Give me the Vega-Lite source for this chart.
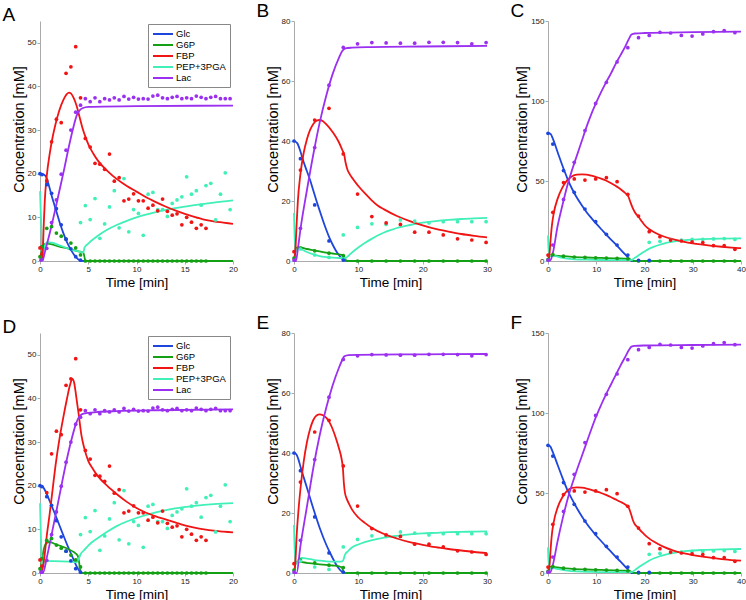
{
"$schema":"https://vega.github.io/schema/vega-lite/v6.json",
"background":"white",
"padding":{"left":2,"top":2,"right":0,"bottom":0},
"config":{
 "view":{"stroke":null},
 "axis":{"grid":false,"domainColor":"#aaaaaa","tickColor":"#aaaaaa","tickSize":3,"labelFont":"Liberation Sans","labelFontSize":8,"labelColor":"#222222","labelPadding":1,"labelFlush":false,"labelOverlap":false,"titleFont":"Liberation Sans","titleFontWeight":"normal","titleColor":"black"},
 "axisX":{"titleFontSize":13.5,"titlePadding":2},
 "axisY":{"titleFontSize":14.5,"titlePadding":1,"titleY":108},
 "title":{"font":"Liberation Sans","fontSize":19,"fontWeight":"normal","color":"black","anchor":"start","frame":"group","dx":-37.5,"offset":0,"dy":8,"baseline":"alphabetic"},
 "legend":{"title":null}
},
"datasets":{
"lnA":[
{"s":"Glc","t":0,"c":20},{"s":"Glc","t":0.3,"c":19.9},{"s":"Glc","t":0.6,"c":19.4},{"s":"Glc","t":0.9,"c":17.5},{"s":"Glc","t":1.2,"c":15},{"s":"Glc","t":1.5,"c":12.8},{"s":"Glc","t":1.8,"c":10.6},{"s":"Glc","t":2.1,"c":8.4},{"s":"Glc","t":2.4,"c":6.5},{"s":"Glc","t":2.7,"c":4.8},{"s":"Glc","t":3,"c":3.4},{"s":"Glc","t":3.3,"c":2.2},{"s":"Glc","t":3.6,"c":1.2},{"s":"Glc","t":3.9,"c":0.5},{"s":"Glc","t":4.2,"c":0.1},{"s":"Glc","t":4.5,"c":0},{"s":"Glc","t":20,"c":0},
{"s":"G6P","t":0,"c":0},{"s":"G6P","t":0.1,"c":1.5},{"s":"G6P","t":0.3,"c":3.5},{"s":"G6P","t":0.6,"c":4},{"s":"G6P","t":1,"c":3.9},{"s":"G6P","t":2,"c":3.3},{"s":"G6P","t":3,"c":2.8},{"s":"G6P","t":4,"c":2.2},{"s":"G6P","t":4.5,"c":1.9},{"s":"G6P","t":4.6,"c":1},{"s":"G6P","t":4.7,"c":0.1},{"s":"G6P","t":4.8,"c":0},{"s":"G6P","t":20,"c":0},
{"s":"PEP+3PGA","t":0,"c":16},{"s":"PEP+3PGA","t":0.1,"c":10},{"s":"PEP+3PGA","t":0.2,"c":4},{"s":"PEP+3PGA","t":0.3,"c":2},{"s":"PEP+3PGA","t":0.5,"c":3.5},{"s":"PEP+3PGA","t":0.8,"c":4.3},{"s":"PEP+3PGA","t":1.2,"c":4.2},{"s":"PEP+3PGA","t":2,"c":3.6},{"s":"PEP+3PGA","t":3,"c":2.8},{"s":"PEP+3PGA","t":4,"c":2.2},{"s":"PEP+3PGA","t":4.5,"c":2},{"s":"PEP+3PGA","t":4.6,"c":3},{"s":"PEP+3PGA","t":5,"c":4},{"s":"PEP+3PGA","t":6,"c":5.8},{"s":"PEP+3PGA","t":7,"c":7.2},{"s":"PEP+3PGA","t":8,"c":8.3},{"s":"PEP+3PGA","t":9,"c":9.2},{"s":"PEP+3PGA","t":10,"c":10},{"s":"PEP+3PGA","t":12,"c":11.2},{"s":"PEP+3PGA","t":14,"c":12.1},{"s":"PEP+3PGA","t":16,"c":12.8},{"s":"PEP+3PGA","t":18,"c":13.4},{"s":"PEP+3PGA","t":20,"c":13.9},
{"s":"FBP","t":0,"c":0},{"s":"FBP","t":0.2,"c":0.5},{"s":"FBP","t":0.3,"c":3},{"s":"FBP","t":0.4,"c":9},{"s":"FBP","t":0.5,"c":14},{"s":"FBP","t":0.7,"c":19.5},{"s":"FBP","t":1,"c":24.5},{"s":"FBP","t":1.3,"c":28.3},{"s":"FBP","t":1.6,"c":31.3},{"s":"FBP","t":2,"c":34.5},{"s":"FBP","t":2.4,"c":36.8},{"s":"FBP","t":2.8,"c":38.3},{"s":"FBP","t":3,"c":38.6},{"s":"FBP","t":3.2,"c":38.4},{"s":"FBP","t":3.5,"c":37.3},{"s":"FBP","t":3.8,"c":35.5},{"s":"FBP","t":4.1,"c":33},{"s":"FBP","t":4.4,"c":30.5},{"s":"FBP","t":4.7,"c":28.5},{"s":"FBP","t":5,"c":26.8},{"s":"FBP","t":5.5,"c":24.7},{"s":"FBP","t":6,"c":23},{"s":"FBP","t":7,"c":20.6},{"s":"FBP","t":8,"c":18.7},{"s":"FBP","t":9,"c":17.2},{"s":"FBP","t":10,"c":15.9},{"s":"FBP","t":11,"c":14.6},{"s":"FBP","t":12,"c":13.5},{"s":"FBP","t":13,"c":12.5},{"s":"FBP","t":14,"c":11.6},{"s":"FBP","t":15,"c":10.8},{"s":"FBP","t":16,"c":10.1},{"s":"FBP","t":17,"c":9.5},{"s":"FBP","t":18,"c":9.1},{"s":"FBP","t":19,"c":8.8},{"s":"FBP","t":20,"c":8.5},
{"s":"Lac","t":0,"c":0},{"s":"Lac","t":0.3,"c":0.3},{"s":"Lac","t":0.5,"c":2},{"s":"Lac","t":1,"c":6.3},{"s":"Lac","t":1.5,"c":11},{"s":"Lac","t":2,"c":16},{"s":"Lac","t":2.5,"c":21},{"s":"Lac","t":3,"c":26.3},{"s":"Lac","t":3.5,"c":31},{"s":"Lac","t":3.8,"c":33.3},{"s":"Lac","t":4.1,"c":34.5},{"s":"Lac","t":4.4,"c":35},{"s":"Lac","t":5,"c":35.3},{"s":"Lac","t":10,"c":35.5},{"s":"Lac","t":20,"c":35.6}
],
"lnD":[
{"s":"Glc","t":0,"c":20},{"s":"Glc","t":0.3,"c":19.7},{"s":"Glc","t":0.6,"c":18.6},{"s":"Glc","t":1,"c":16.5},{"s":"Glc","t":1.5,"c":13.8},{"s":"Glc","t":2,"c":11},{"s":"Glc","t":2.5,"c":8.2},{"s":"Glc","t":3,"c":5.5},{"s":"Glc","t":3.5,"c":3},{"s":"Glc","t":3.8,"c":1.5},{"s":"Glc","t":4.1,"c":0.4},{"s":"Glc","t":4.3,"c":0},{"s":"Glc","t":20,"c":0},
{"s":"G6P","t":0,"c":0},{"s":"G6P","t":0.2,"c":3},{"s":"G6P","t":0.4,"c":5.5},{"s":"G6P","t":0.7,"c":6.9},{"s":"G6P","t":1,"c":7.1},{"s":"G6P","t":1.5,"c":6.7},{"s":"G6P","t":2,"c":6.3},{"s":"G6P","t":2.5,"c":5.9},{"s":"G6P","t":3,"c":5.4},{"s":"G6P","t":3.5,"c":4.8},{"s":"G6P","t":3.9,"c":4},{"s":"G6P","t":4.05,"c":2.5},{"s":"G6P","t":4.15,"c":0.8},{"s":"G6P","t":4.3,"c":0},{"s":"G6P","t":20,"c":0},
{"s":"PEP+3PGA","t":0,"c":16},{"s":"PEP+3PGA","t":0.1,"c":8},{"s":"PEP+3PGA","t":0.2,"c":1.5},{"s":"PEP+3PGA","t":0.4,"c":2.5},{"s":"PEP+3PGA","t":0.7,"c":2.8},{"s":"PEP+3PGA","t":1.5,"c":2.7},{"s":"PEP+3PGA","t":3,"c":2.6},{"s":"PEP+3PGA","t":3.8,"c":2.5},{"s":"PEP+3PGA","t":4,"c":3.2},{"s":"PEP+3PGA","t":4.2,"c":4.3},{"s":"PEP+3PGA","t":4.6,"c":5.3},{"s":"PEP+3PGA","t":5,"c":6.3},{"s":"PEP+3PGA","t":6,"c":8},{"s":"PEP+3PGA","t":7,"c":9.5},{"s":"PEP+3PGA","t":8,"c":10.8},{"s":"PEP+3PGA","t":9,"c":11.8},{"s":"PEP+3PGA","t":10,"c":12.6},{"s":"PEP+3PGA","t":12,"c":13.9},{"s":"PEP+3PGA","t":14,"c":14.8},{"s":"PEP+3PGA","t":16,"c":15.4},{"s":"PEP+3PGA","t":18,"c":15.8},{"s":"PEP+3PGA","t":20,"c":16},
{"s":"FBP","t":0,"c":0},{"s":"FBP","t":0.2,"c":0.5},{"s":"FBP","t":0.35,"c":2},{"s":"FBP","t":0.5,"c":4.5},{"s":"FBP","t":0.7,"c":8.5},{"s":"FBP","t":1,"c":13.5},{"s":"FBP","t":1.3,"c":19},{"s":"FBP","t":1.6,"c":24.5},{"s":"FBP","t":2,"c":30.5},{"s":"FBP","t":2.4,"c":35.5},{"s":"FBP","t":2.8,"c":40},{"s":"FBP","t":3.1,"c":43},{"s":"FBP","t":3.35,"c":44.5},{"s":"FBP","t":3.55,"c":43.5},{"s":"FBP","t":3.75,"c":40.5},{"s":"FBP","t":4,"c":36.5},{"s":"FBP","t":4.3,"c":31.5},{"s":"FBP","t":4.6,"c":28.5},{"s":"FBP","t":5,"c":25.7},{"s":"FBP","t":5.5,"c":23.8},{"s":"FBP","t":6,"c":22.2},{"s":"FBP","t":7,"c":19.9},{"s":"FBP","t":8,"c":18},{"s":"FBP","t":9,"c":16.3},{"s":"FBP","t":10,"c":14.9},{"s":"FBP","t":11,"c":13.8},{"s":"FBP","t":12,"c":13},{"s":"FBP","t":13,"c":12.3},{"s":"FBP","t":14,"c":11.6},{"s":"FBP","t":15,"c":10.9},{"s":"FBP","t":16,"c":10.4},{"s":"FBP","t":17,"c":10},{"s":"FBP","t":18,"c":9.7},{"s":"FBP","t":19,"c":9.5},{"s":"FBP","t":20,"c":9.3},
{"s":"Lac","t":0,"c":0},{"s":"Lac","t":0.3,"c":0},{"s":"Lac","t":0.7,"c":3.5},{"s":"Lac","t":1.2,"c":8.8},{"s":"Lac","t":1.7,"c":14.2},{"s":"Lac","t":2.2,"c":19.8},{"s":"Lac","t":2.7,"c":25.2},{"s":"Lac","t":3.2,"c":30},{"s":"Lac","t":3.7,"c":34},{"s":"Lac","t":4,"c":35.6},{"s":"Lac","t":4.3,"c":36.3},{"s":"Lac","t":4.7,"c":36.6},{"s":"Lac","t":5,"c":36.7},{"s":"Lac","t":6,"c":36.9},{"s":"Lac","t":8,"c":37.1},{"s":"Lac","t":12,"c":37.3},{"s":"Lac","t":20,"c":37.5}
],
"ptsA":[
{"s":"G6P","t":0,"c":1},{"s":"G6P","t":0.2,"c":3.3},{"s":"G6P","t":0.7,"c":7.5},{"s":"G6P","t":1.2,"c":7.9},{"s":"G6P","t":1.7,"c":6.4},{"s":"G6P","t":2.2,"c":5.7},{"s":"G6P","t":2.7,"c":5},{"s":"G6P","t":3.2,"c":4.1},{"s":"G6P","t":3.7,"c":3},{"s":"G6P","t":4.2,"c":1.4},
{"s":"G6P","t":4.7,"c":0},{"s":"G6P","t":5.2,"c":0},{"s":"G6P","t":5.7,"c":0},{"s":"G6P","t":6.2,"c":0},{"s":"G6P","t":6.7,"c":0},{"s":"G6P","t":7.2,"c":0},{"s":"G6P","t":7.7,"c":0},{"s":"G6P","t":8.2,"c":0},{"s":"G6P","t":8.7,"c":0},{"s":"G6P","t":9.2,"c":0},{"s":"G6P","t":9.7,"c":0},{"s":"G6P","t":10.2,"c":0},{"s":"G6P","t":10.7,"c":0},{"s":"G6P","t":11.2,"c":0},{"s":"G6P","t":11.7,"c":0},{"s":"G6P","t":12.2,"c":0},{"s":"G6P","t":12.7,"c":0},{"s":"G6P","t":13.2,"c":0},{"s":"G6P","t":13.7,"c":0},{"s":"G6P","t":14.2,"c":0},{"s":"G6P","t":14.7,"c":0},{"s":"G6P","t":15.2,"c":0},{"s":"G6P","t":15.7,"c":0},{"s":"G6P","t":16.2,"c":0},{"s":"G6P","t":16.7,"c":0},{"s":"G6P","t":17.2,"c":0},
{"s":"PEP+3PGA","t":4.2,"c":8.8},{"s":"PEP+3PGA","t":4.7,"c":12.7},{"s":"PEP+3PGA","t":5.2,"c":9.5},{"s":"PEP+3PGA","t":5.7,"c":14.3},{"s":"PEP+3PGA","t":6.2,"c":5.2},{"s":"PEP+3PGA","t":6.7,"c":8.5},{"s":"PEP+3PGA","t":7.2,"c":12.4},{"s":"PEP+3PGA","t":7.7,"c":16.1},{"s":"PEP+3PGA","t":8.2,"c":7.6},{"s":"PEP+3PGA","t":8.7,"c":18.9},{"s":"PEP+3PGA","t":9.2,"c":6.7},{"s":"PEP+3PGA","t":9.7,"c":11.8},{"s":"PEP+3PGA","t":10.2,"c":10.9},{"s":"PEP+3PGA","t":10.7,"c":5.9},{"s":"PEP+3PGA","t":11.2,"c":15.3},{"s":"PEP+3PGA","t":11.7,"c":15.7},{"s":"PEP+3PGA","t":12.2,"c":11.8},{"s":"PEP+3PGA","t":12.7,"c":11.8},{"s":"PEP+3PGA","t":13.2,"c":10.2},{"s":"PEP+3PGA","t":13.7,"c":13.2},{"s":"PEP+3PGA","t":14.2,"c":14},{"s":"PEP+3PGA","t":14.7,"c":14.7},{"s":"PEP+3PGA","t":15.2,"c":19.3},{"s":"PEP+3PGA","t":15.7,"c":15.3},{"s":"PEP+3PGA","t":16.2,"c":16.1},{"s":"PEP+3PGA","t":16.7,"c":12.8},{"s":"PEP+3PGA","t":17.2,"c":17.3},{"s":"PEP+3PGA","t":17.7,"c":17.8},{"s":"PEP+3PGA","t":18.2,"c":9.4},{"s":"PEP+3PGA","t":18.7,"c":15.3},{"s":"PEP+3PGA","t":19.2,"c":20.2},{"s":"PEP+3PGA","t":19.7,"c":11.8},
{"s":"FBP","t":0,"c":3},{"s":"FBP","t":0.2,"c":1.6},{"s":"FBP","t":0.7,"c":18.4},{"s":"FBP","t":1.2,"c":27.3},{"s":"FBP","t":1.7,"c":32.5},{"s":"FBP","t":2.2,"c":31.7},{"s":"FBP","t":2.7,"c":43},{"s":"FBP","t":3.2,"c":44.5},{"s":"FBP","t":3.7,"c":49.1},{"s":"FBP","t":4.2,"c":37.4},{"s":"FBP","t":4.7,"c":28.1},{"s":"FBP","t":5.2,"c":26.1},{"s":"FBP","t":5.7,"c":22.4},{"s":"FBP","t":6.2,"c":22.2},{"s":"FBP","t":6.7,"c":21},{"s":"FBP","t":7.2,"c":24.5},{"s":"FBP","t":7.7,"c":18.3},{"s":"FBP","t":8.2,"c":19.1},{"s":"FBP","t":8.7,"c":13.8},{"s":"FBP","t":9.2,"c":14.2},{"s":"FBP","t":9.7,"c":15.4},{"s":"FBP","t":10.2,"c":13.8},{"s":"FBP","t":10.7,"c":13.8},{"s":"FBP","t":11.2,"c":12.1},{"s":"FBP","t":11.7,"c":12.8},{"s":"FBP","t":12.2,"c":11.5},{"s":"FBP","t":12.7,"c":14.2},{"s":"FBP","t":13.2,"c":11.4},{"s":"FBP","t":13.7,"c":10.5},{"s":"FBP","t":14.2,"c":10.8},{"s":"FBP","t":14.7,"c":8.3},{"s":"FBP","t":15.2,"c":10},{"s":"FBP","t":15.7,"c":8.9},{"s":"FBP","t":16.2,"c":7.5},{"s":"FBP","t":16.7,"c":8.3},{"s":"FBP","t":17.2,"c":7.5},
{"s":"Lac","t":0.2,"c":0.3},{"s":"Lac","t":0.7,"c":2.9},{"s":"Lac","t":1.2,"c":8.8},{"s":"Lac","t":1.7,"c":14},{"s":"Lac","t":2.2,"c":19.9},{"s":"Lac","t":2.7,"c":25.4},{"s":"Lac","t":3.2,"c":30},{"s":"Lac","t":3.7,"c":34.1},{"s":"Lac","t":4.2,"c":35.7},{"s":"Lac","t":4.7,"c":37.2},{"s":"Lac","t":5.2,"c":36.5},{"s":"Lac","t":5.7,"c":37.4},{"s":"Lac","t":6.2,"c":36.5},{"s":"Lac","t":6.7,"c":37.2},{"s":"Lac","t":7.2,"c":36.9},{"s":"Lac","t":7.7,"c":37.4},{"s":"Lac","t":8.2,"c":36.9},{"s":"Lac","t":8.7,"c":37.7},{"s":"Lac","t":9.2,"c":37.1},{"s":"Lac","t":9.7,"c":37.5},{"s":"Lac","t":10.2,"c":37.1},{"s":"Lac","t":10.7,"c":37.2},{"s":"Lac","t":11.2,"c":37.1},{"s":"Lac","t":11.7,"c":37.8},{"s":"Lac","t":12.2,"c":38},{"s":"Lac","t":12.7,"c":37.4},{"s":"Lac","t":13.2,"c":37.2},{"s":"Lac","t":13.7,"c":37.5},{"s":"Lac","t":14.2,"c":37.7},{"s":"Lac","t":14.7,"c":37.2},{"s":"Lac","t":15.2,"c":37.4},{"s":"Lac","t":15.7,"c":37.2},{"s":"Lac","t":16.2,"c":37.8},{"s":"Lac","t":16.7,"c":37.5},{"s":"Lac","t":17.2,"c":37.2},{"s":"Lac","t":17.7,"c":37.5},{"s":"Lac","t":18.2,"c":37.7},{"s":"Lac","t":18.7,"c":37.2},{"s":"Lac","t":19.2,"c":37.2},{"s":"Lac","t":19.7,"c":37.2},
{"s":"Glc","t":0,"c":20},{"s":"Glc","t":0.2,"c":19.8},{"s":"Glc","t":0.7,"c":17.5},{"s":"Glc","t":1.2,"c":15.5},{"s":"Glc","t":1.7,"c":12},{"s":"Glc","t":2.2,"c":8.3},{"s":"Glc","t":2.7,"c":5},{"s":"Glc","t":3.2,"c":2.8},{"s":"Glc","t":3.7,"c":1},{"s":"Glc","t":4.2,"c":0.2}
],
"lnB":[
{"s":"Glc","t":0,"c":40},{"s":"Glc","t":0.5,"c":39.3},{"s":"Glc","t":1,"c":36.5},{"s":"Glc","t":1.5,"c":33},{"s":"Glc","t":2,"c":30},{"s":"Glc","t":2.5,"c":27},{"s":"Glc","t":3,"c":23.5},{"s":"Glc","t":3.5,"c":20},{"s":"Glc","t":4,"c":16.7},{"s":"Glc","t":4.5,"c":13.5},{"s":"Glc","t":5,"c":10.5},{"s":"Glc","t":5.5,"c":7.8},{"s":"Glc","t":6,"c":5.5},{"s":"Glc","t":6.5,"c":3.5},{"s":"Glc","t":7,"c":1.9},{"s":"Glc","t":7.5,"c":0.7},{"s":"Glc","t":7.9,"c":0.1},{"s":"Glc","t":8.2,"c":0},{"s":"Glc","t":30,"c":0},
{"s":"G6P","t":0,"c":0},{"s":"G6P","t":0.2,"c":3},{"s":"G6P","t":0.5,"c":4.5},{"s":"G6P","t":1,"c":4.5},{"s":"G6P","t":2,"c":4},{"s":"G6P","t":3,"c":3.6},{"s":"G6P","t":4,"c":3.2},{"s":"G6P","t":5,"c":2.8},{"s":"G6P","t":6,"c":2.5},{"s":"G6P","t":7,"c":2.2},{"s":"G6P","t":7.6,"c":2},{"s":"G6P","t":7.9,"c":1},{"s":"G6P","t":8.1,"c":0.2},{"s":"G6P","t":8.3,"c":0},{"s":"G6P","t":30,"c":0},
{"s":"PEP+3PGA","t":0,"c":16},{"s":"PEP+3PGA","t":0.1,"c":8},{"s":"PEP+3PGA","t":0.3,"c":3},{"s":"PEP+3PGA","t":0.6,"c":4.2},{"s":"PEP+3PGA","t":1,"c":4},{"s":"PEP+3PGA","t":2,"c":3},{"s":"PEP+3PGA","t":3,"c":2.2},{"s":"PEP+3PGA","t":4,"c":1.6},{"s":"PEP+3PGA","t":5,"c":1.3},{"s":"PEP+3PGA","t":6,"c":1.1},{"s":"PEP+3PGA","t":7,"c":1},{"s":"PEP+3PGA","t":8,"c":1},{"s":"PEP+3PGA","t":8.5,"c":1.8},{"s":"PEP+3PGA","t":9,"c":2.8},{"s":"PEP+3PGA","t":10,"c":4.5},{"s":"PEP+3PGA","t":11,"c":6},{"s":"PEP+3PGA","t":12,"c":7.3},{"s":"PEP+3PGA","t":13,"c":8.5},{"s":"PEP+3PGA","t":14,"c":9.5},{"s":"PEP+3PGA","t":15,"c":10.3},{"s":"PEP+3PGA","t":16,"c":11},{"s":"PEP+3PGA","t":18,"c":12},{"s":"PEP+3PGA","t":20,"c":12.8},{"s":"PEP+3PGA","t":22,"c":13.3},{"s":"PEP+3PGA","t":24,"c":13.7},{"s":"PEP+3PGA","t":26,"c":14},{"s":"PEP+3PGA","t":28,"c":14.2},{"s":"PEP+3PGA","t":30,"c":14.4},
{"s":"FBP","t":0,"c":0},{"s":"FBP","t":0.2,"c":3},{"s":"FBP","t":0.4,"c":12},{"s":"FBP","t":0.6,"c":20},{"s":"FBP","t":1,"c":29},{"s":"FBP","t":1.5,"c":36},{"s":"FBP","t":2,"c":40.5},{"s":"FBP","t":2.5,"c":43.7},{"s":"FBP","t":3,"c":45.7},{"s":"FBP","t":3.5,"c":46.8},{"s":"FBP","t":4,"c":47},{"s":"FBP","t":4.5,"c":46.6},{"s":"FBP","t":5,"c":45.6},{"s":"FBP","t":6,"c":43},{"s":"FBP","t":7,"c":39.5},{"s":"FBP","t":7.5,"c":37},{"s":"FBP","t":7.8,"c":35.5},{"s":"FBP","t":8,"c":33},{"s":"FBP","t":8.3,"c":30.5},{"s":"FBP","t":8.7,"c":28.8},{"s":"FBP","t":9,"c":27.8},{"s":"FBP","t":10,"c":25},{"s":"FBP","t":11,"c":22.6},{"s":"FBP","t":12,"c":20.4},{"s":"FBP","t":13,"c":18.5},{"s":"FBP","t":14,"c":17.2},{"s":"FBP","t":16,"c":15},{"s":"FBP","t":18,"c":13.3},{"s":"FBP","t":20,"c":11.9},{"s":"FBP","t":22,"c":10.7},{"s":"FBP","t":24,"c":9.8},{"s":"FBP","t":26,"c":9},{"s":"FBP","t":28,"c":8.4},{"s":"FBP","t":30,"c":7.9},
{"s":"Lac","t":0,"c":0},{"s":"Lac","t":0.3,"c":0},{"s":"Lac","t":0.6,"c":4},{"s":"Lac","t":1,"c":10.5},{"s":"Lac","t":2,"c":23.5},{"s":"Lac","t":3,"c":35.5},{"s":"Lac","t":4,"c":46.2},{"s":"Lac","t":5,"c":55},{"s":"Lac","t":6,"c":62.3},{"s":"Lac","t":7,"c":67.8},{"s":"Lac","t":7.5,"c":70},{"s":"Lac","t":8,"c":70.9},{"s":"Lac","t":9,"c":71.1},{"s":"Lac","t":12,"c":71.3},{"s":"Lac","t":20,"c":71.5},{"s":"Lac","t":30,"c":71.7}
],
"lnE":[
{"s":"Glc","t":0,"c":40},{"s":"Glc","t":0.3,"c":39.7},{"s":"Glc","t":0.7,"c":37.8},{"s":"Glc","t":1,"c":35.5},{"s":"Glc","t":2,"c":28.5},{"s":"Glc","t":3,"c":21.5},{"s":"Glc","t":4,"c":15},{"s":"Glc","t":5,"c":9.5},{"s":"Glc","t":5.5,"c":7.2},{"s":"Glc","t":6,"c":5},{"s":"Glc","t":6.5,"c":3},{"s":"Glc","t":7,"c":1.4},{"s":"Glc","t":7.5,"c":0.3},{"s":"Glc","t":7.8,"c":0},{"s":"Glc","t":30,"c":0},
{"s":"G6P","t":0,"c":0},{"s":"G6P","t":0.3,"c":3.5},{"s":"G6P","t":0.6,"c":3.8},{"s":"G6P","t":1,"c":3.7},{"s":"G6P","t":2,"c":3.4},{"s":"G6P","t":3,"c":3.1},{"s":"G6P","t":4,"c":2.9},{"s":"G6P","t":5,"c":2.7},{"s":"G6P","t":6,"c":2.5},{"s":"G6P","t":7,"c":2.2},{"s":"G6P","t":7.4,"c":1.9},{"s":"G6P","t":7.7,"c":0.5},{"s":"G6P","t":7.9,"c":0},{"s":"G6P","t":30,"c":0},
{"s":"PEP+3PGA","t":0,"c":16},{"s":"PEP+3PGA","t":0.1,"c":8},{"s":"PEP+3PGA","t":0.3,"c":3},{"s":"PEP+3PGA","t":0.7,"c":4.5},{"s":"PEP+3PGA","t":1.2,"c":5},{"s":"PEP+3PGA","t":2,"c":4.8},{"s":"PEP+3PGA","t":3,"c":4.4},{"s":"PEP+3PGA","t":4,"c":4.1},{"s":"PEP+3PGA","t":5,"c":3.9},{"s":"PEP+3PGA","t":6,"c":3.8},{"s":"PEP+3PGA","t":7,"c":3.8},{"s":"PEP+3PGA","t":7.5,"c":3.9},{"s":"PEP+3PGA","t":7.7,"c":4.5},{"s":"PEP+3PGA","t":7.9,"c":6},{"s":"PEP+3PGA","t":8.5,"c":7.5},{"s":"PEP+3PGA","t":9,"c":8.5},{"s":"PEP+3PGA","t":10,"c":9.5},{"s":"PEP+3PGA","t":11,"c":10.3},{"s":"PEP+3PGA","t":12,"c":10.9},{"s":"PEP+3PGA","t":13,"c":11.4},{"s":"PEP+3PGA","t":14,"c":11.8},{"s":"PEP+3PGA","t":16,"c":12.4},{"s":"PEP+3PGA","t":18,"c":12.9},{"s":"PEP+3PGA","t":20,"c":13.2},{"s":"PEP+3PGA","t":22,"c":13.4},{"s":"PEP+3PGA","t":24,"c":13.6},{"s":"PEP+3PGA","t":26,"c":13.7},{"s":"PEP+3PGA","t":28,"c":13.8},{"s":"PEP+3PGA","t":30,"c":13.9},
{"s":"FBP","t":0,"c":0},{"s":"FBP","t":0.2,"c":3},{"s":"FBP","t":0.4,"c":12},{"s":"FBP","t":0.7,"c":21},{"s":"FBP","t":1,"c":28},{"s":"FBP","t":1.5,"c":37},{"s":"FBP","t":2,"c":43.5},{"s":"FBP","t":2.5,"c":48},{"s":"FBP","t":3,"c":51},{"s":"FBP","t":3.5,"c":52.5},{"s":"FBP","t":4,"c":52.9},{"s":"FBP","t":4.5,"c":52.6},{"s":"FBP","t":5,"c":51.8},{"s":"FBP","t":5.5,"c":50.3},{"s":"FBP","t":6,"c":48},{"s":"FBP","t":6.5,"c":45},{"s":"FBP","t":7,"c":41.5},{"s":"FBP","t":7.4,"c":38},{"s":"FBP","t":7.6,"c":35},{"s":"FBP","t":7.75,"c":30},{"s":"FBP","t":7.9,"c":27},{"s":"FBP","t":8.2,"c":24.7},{"s":"FBP","t":8.5,"c":23.3},{"s":"FBP","t":9,"c":21.2},{"s":"FBP","t":10,"c":18.5},{"s":"FBP","t":11,"c":16.7},{"s":"FBP","t":12,"c":15.2},{"s":"FBP","t":14,"c":13},{"s":"FBP","t":16,"c":11.5},{"s":"FBP","t":18,"c":10.3},{"s":"FBP","t":20,"c":9.4},{"s":"FBP","t":22,"c":8.6},{"s":"FBP","t":24,"c":8},{"s":"FBP","t":26,"c":7.5},{"s":"FBP","t":28,"c":7},{"s":"FBP","t":30,"c":6.6},
{"s":"Lac","t":0,"c":0},{"s":"Lac","t":0.4,"c":0},{"s":"Lac","t":1,"c":9},{"s":"Lac","t":2,"c":22},{"s":"Lac","t":3,"c":35},{"s":"Lac","t":4,"c":46},{"s":"Lac","t":5,"c":55},{"s":"Lac","t":6,"c":62.5},{"s":"Lac","t":7,"c":68.5},{"s":"Lac","t":7.5,"c":71},{"s":"Lac","t":7.8,"c":72.2},{"s":"Lac","t":8.5,"c":72.6},{"s":"Lac","t":10,"c":72.7},{"s":"Lac","t":20,"c":72.9},{"s":"Lac","t":30,"c":73}
],
"ptsB":[
{"s":"G6P","t":0,"c":1},{"s":"G6P","t":1,"c":4.3},{"s":"G6P","t":3.22,"c":3.4},{"s":"G6P","t":5.44,"c":2.6},{"s":"G6P","t":7.66,"c":1.8},{"s":"G6P","t":9.88,"c":0},{"s":"G6P","t":12.1,"c":0},{"s":"G6P","t":14.32,"c":0},{"s":"G6P","t":16.54,"c":0},{"s":"G6P","t":18.76,"c":0},{"s":"G6P","t":20.98,"c":0},{"s":"G6P","t":23.2,"c":0},{"s":"G6P","t":25.42,"c":0},{"s":"G6P","t":27.64,"c":0},{"s":"G6P","t":29.86,"c":0},
{"s":"PEP+3PGA","t":1,"c":4},{"s":"PEP+3PGA","t":3.22,"c":2},{"s":"PEP+3PGA","t":5.44,"c":1.2},{"s":"PEP+3PGA","t":7.66,"c":8.7},{"s":"PEP+3PGA","t":9.88,"c":11.2},{"s":"PEP+3PGA","t":12.1,"c":12.4},{"s":"PEP+3PGA","t":14.32,"c":12.2},{"s":"PEP+3PGA","t":16.54,"c":13.7},{"s":"PEP+3PGA","t":18.76,"c":13.3},{"s":"PEP+3PGA","t":20.98,"c":12.7},{"s":"PEP+3PGA","t":23.2,"c":13.1},{"s":"PEP+3PGA","t":25.42,"c":13.1},{"s":"PEP+3PGA","t":27.64,"c":13.1},{"s":"PEP+3PGA","t":29.86,"c":13.1},
{"s":"FBP","t":0,"c":3.1},{"s":"FBP","t":1,"c":30.3},{"s":"FBP","t":3.22,"c":47},{"s":"FBP","t":5.44,"c":50.9},{"s":"FBP","t":7.66,"c":35.7},{"s":"FBP","t":9.88,"c":22.3},{"s":"FBP","t":12.1,"c":14.8},{"s":"FBP","t":14.32,"c":12.7},{"s":"FBP","t":16.54,"c":12.2},{"s":"FBP","t":18.76,"c":9.6},{"s":"FBP","t":20.98,"c":9.6},{"s":"FBP","t":23.2,"c":8.7},{"s":"FBP","t":25.42,"c":7.4},{"s":"FBP","t":27.64,"c":7},{"s":"FBP","t":29.86,"c":6.2},
{"s":"Lac","t":0,"c":0.3},{"s":"Lac","t":1,"c":10.9},{"s":"Lac","t":3.22,"c":37.8},{"s":"Lac","t":5.44,"c":58.6},{"s":"Lac","t":7.66,"c":71.2},{"s":"Lac","t":9.88,"c":72.4},{"s":"Lac","t":12.1,"c":72.8},{"s":"Lac","t":14.32,"c":72.7},{"s":"Lac","t":16.54,"c":72.6},{"s":"Lac","t":18.76,"c":72.6},{"s":"Lac","t":20.98,"c":72.9},{"s":"Lac","t":23.2,"c":72.9},{"s":"Lac","t":25.42,"c":72.8},{"s":"Lac","t":27.64,"c":72.4},{"s":"Lac","t":29.86,"c":72.8},
{"s":"Glc","t":0,"c":40},{"s":"Glc","t":1,"c":34.1},{"s":"Glc","t":3.22,"c":18.7},{"s":"Glc","t":5.44,"c":6.7},{"s":"Glc","t":7.66,"c":0.3}
],
"lnC":[
{"s":"Glc","t":0,"c":80},{"s":"Glc","t":0.5,"c":79.5},{"s":"Glc","t":1,"c":76.5},{"s":"Glc","t":2,"c":68},{"s":"Glc","t":3,"c":59.5},{"s":"Glc","t":4,"c":51.7},{"s":"Glc","t":5,"c":45},{"s":"Glc","t":6,"c":39.5},{"s":"Glc","t":7,"c":34.8},{"s":"Glc","t":8,"c":30.5},{"s":"Glc","t":9,"c":26.8},{"s":"Glc","t":10,"c":23.3},{"s":"Glc","t":11,"c":20},{"s":"Glc","t":12,"c":16.8},{"s":"Glc","t":13,"c":13.5},{"s":"Glc","t":14,"c":10.5},{"s":"Glc","t":15,"c":7.3},{"s":"Glc","t":16,"c":4.1},{"s":"Glc","t":16.5,"c":2.4},{"s":"Glc","t":17,"c":0.8},{"s":"Glc","t":17.3,"c":0},{"s":"Glc","t":40,"c":0},
{"s":"G6P","t":0,"c":0},{"s":"G6P","t":0.3,"c":3},{"s":"G6P","t":0.7,"c":3.6},{"s":"G6P","t":1.5,"c":3.4},{"s":"G6P","t":3,"c":3},{"s":"G6P","t":5,"c":2.6},{"s":"G6P","t":8,"c":2.2},{"s":"G6P","t":11,"c":1.9},{"s":"G6P","t":14,"c":1.6},{"s":"G6P","t":16,"c":1.4},{"s":"G6P","t":17,"c":1},{"s":"G6P","t":17.5,"c":0.2},{"s":"G6P","t":18,"c":0},{"s":"G6P","t":40,"c":0},
{"s":"PEP+3PGA","t":0,"c":16},{"s":"PEP+3PGA","t":0.1,"c":8},{"s":"PEP+3PGA","t":0.3,"c":3},{"s":"PEP+3PGA","t":0.7,"c":3.3},{"s":"PEP+3PGA","t":1.5,"c":3},{"s":"PEP+3PGA","t":3,"c":2},{"s":"PEP+3PGA","t":5,"c":1.2},{"s":"PEP+3PGA","t":8,"c":0.8},{"s":"PEP+3PGA","t":12,"c":0.6},{"s":"PEP+3PGA","t":17.2,"c":0.5},{"s":"PEP+3PGA","t":18,"c":2},{"s":"PEP+3PGA","t":19,"c":4},{"s":"PEP+3PGA","t":20,"c":6},{"s":"PEP+3PGA","t":21,"c":7.7},{"s":"PEP+3PGA","t":22,"c":9},{"s":"PEP+3PGA","t":23,"c":10},{"s":"PEP+3PGA","t":24,"c":10.9},{"s":"PEP+3PGA","t":25,"c":11.6},{"s":"PEP+3PGA","t":27,"c":12.6},{"s":"PEP+3PGA","t":29,"c":13.2},{"s":"PEP+3PGA","t":32,"c":13.7},{"s":"PEP+3PGA","t":36,"c":14},{"s":"PEP+3PGA","t":40,"c":14.1},
{"s":"FBP","t":0,"c":0},{"s":"FBP","t":0.3,"c":4},{"s":"FBP","t":0.5,"c":12},{"s":"FBP","t":0.8,"c":22},{"s":"FBP","t":1.2,"c":30},{"s":"FBP","t":2,"c":39},{"s":"FBP","t":3,"c":46},{"s":"FBP","t":4,"c":50.5},{"s":"FBP","t":5,"c":53},{"s":"FBP","t":6,"c":54},{"s":"FBP","t":7,"c":54.2},{"s":"FBP","t":8,"c":54},{"s":"FBP","t":9,"c":53.3},{"s":"FBP","t":10,"c":52.5},{"s":"FBP","t":11,"c":51.5},{"s":"FBP","t":12,"c":50.3},{"s":"FBP","t":13,"c":48.8},{"s":"FBP","t":14,"c":47},{"s":"FBP","t":15,"c":45},{"s":"FBP","t":16,"c":42.5},{"s":"FBP","t":16.7,"c":40},{"s":"FBP","t":17,"c":37.5},{"s":"FBP","t":17.5,"c":33.5},{"s":"FBP","t":18,"c":30.5},{"s":"FBP","t":18.75,"c":27.7},{"s":"FBP","t":19.5,"c":24.5},{"s":"FBP","t":20,"c":22.5},{"s":"FBP","t":21,"c":19.8},{"s":"FBP","t":22,"c":18},{"s":"FBP","t":24,"c":15.3},{"s":"FBP","t":26,"c":13.5},{"s":"FBP","t":28,"c":12.1},{"s":"FBP","t":30,"c":11},{"s":"FBP","t":32,"c":10.2},{"s":"FBP","t":34,"c":9.5},{"s":"FBP","t":36,"c":8.9},{"s":"FBP","t":38,"c":8.4},{"s":"FBP","t":40,"c":8},
{"s":"Lac","t":0,"c":0},{"s":"Lac","t":0.5,"c":0.5},{"s":"Lac","t":1,"c":5},{"s":"Lac","t":2,"c":22},{"s":"Lac","t":3,"c":35},{"s":"Lac","t":4,"c":47},{"s":"Lac","t":5,"c":57},{"s":"Lac","t":6,"c":66},{"s":"Lac","t":7,"c":75},{"s":"Lac","t":8,"c":84},{"s":"Lac","t":9,"c":92},{"s":"Lac","t":10,"c":99},{"s":"Lac","t":11,"c":105.5},{"s":"Lac","t":12,"c":111.5},{"s":"Lac","t":13,"c":117},{"s":"Lac","t":14,"c":123},{"s":"Lac","t":15,"c":128.5},{"s":"Lac","t":16,"c":134},{"s":"Lac","t":16.8,"c":139},{"s":"Lac","t":17.3,"c":141.5},{"s":"Lac","t":18,"c":142.2},{"s":"Lac","t":20,"c":142.5},{"s":"Lac","t":30,"c":143},{"s":"Lac","t":40,"c":143.3}
],
"lnF":[
{"s":"Glc","t":0,"c":80},{"s":"Glc","t":0.5,"c":79},{"s":"Glc","t":1,"c":75.5},{"s":"Glc","t":2,"c":67.5},{"s":"Glc","t":3,"c":59.5},{"s":"Glc","t":4,"c":52},{"s":"Glc","t":5,"c":46},{"s":"Glc","t":6,"c":40.5},{"s":"Glc","t":7,"c":35.5},{"s":"Glc","t":8,"c":31},{"s":"Glc","t":9,"c":27},{"s":"Glc","t":10,"c":23.3},{"s":"Glc","t":11,"c":20},{"s":"Glc","t":12,"c":16.7},{"s":"Glc","t":13,"c":13.5},{"s":"Glc","t":14,"c":10.3},{"s":"Glc","t":15,"c":7.2},{"s":"Glc","t":16,"c":4},{"s":"Glc","t":16.5,"c":2.4},{"s":"Glc","t":17,"c":0.8},{"s":"Glc","t":17.3,"c":0},{"s":"Glc","t":40,"c":0},
{"s":"G6P","t":0,"c":0},{"s":"G6P","t":0.3,"c":3.5},{"s":"G6P","t":0.7,"c":4},{"s":"G6P","t":1.5,"c":3.6},{"s":"G6P","t":3,"c":3},{"s":"G6P","t":5,"c":2.6},{"s":"G6P","t":8,"c":2.2},{"s":"G6P","t":11,"c":1.9},{"s":"G6P","t":14,"c":1.6},{"s":"G6P","t":16,"c":1.4},{"s":"G6P","t":17,"c":1.2},{"s":"G6P","t":17.5,"c":0.3},{"s":"G6P","t":18,"c":0},{"s":"G6P","t":40,"c":0},
{"s":"PEP+3PGA","t":0,"c":16},{"s":"PEP+3PGA","t":0.1,"c":8},{"s":"PEP+3PGA","t":0.3,"c":2.5},{"s":"PEP+3PGA","t":0.8,"c":3.2},{"s":"PEP+3PGA","t":2,"c":2.5},{"s":"PEP+3PGA","t":4,"c":1.5},{"s":"PEP+3PGA","t":6,"c":1},{"s":"PEP+3PGA","t":9,"c":0.7},{"s":"PEP+3PGA","t":13,"c":0.5},{"s":"PEP+3PGA","t":17,"c":0.5},{"s":"PEP+3PGA","t":17.5,"c":0.8},{"s":"PEP+3PGA","t":18,"c":1.8},{"s":"PEP+3PGA","t":19,"c":4},{"s":"PEP+3PGA","t":20,"c":6},{"s":"PEP+3PGA","t":21,"c":7.8},{"s":"PEP+3PGA","t":22,"c":9.2},{"s":"PEP+3PGA","t":23,"c":10.3},{"s":"PEP+3PGA","t":24,"c":11.2},{"s":"PEP+3PGA","t":25,"c":12},{"s":"PEP+3PGA","t":27,"c":13.1},{"s":"PEP+3PGA","t":29,"c":13.8},{"s":"PEP+3PGA","t":32,"c":14.4},{"s":"PEP+3PGA","t":36,"c":14.8},{"s":"PEP+3PGA","t":40,"c":15},
{"s":"FBP","t":0,"c":0},{"s":"FBP","t":0.3,"c":4},{"s":"FBP","t":0.5,"c":13},{"s":"FBP","t":0.8,"c":24},{"s":"FBP","t":1.2,"c":32},{"s":"FBP","t":2,"c":41},{"s":"FBP","t":3,"c":47.5},{"s":"FBP","t":4,"c":51.5},{"s":"FBP","t":5,"c":53.2},{"s":"FBP","t":6,"c":53.5},{"s":"FBP","t":7,"c":53.3},{"s":"FBP","t":8,"c":52.8},{"s":"FBP","t":9,"c":52},{"s":"FBP","t":10,"c":51},{"s":"FBP","t":11,"c":50},{"s":"FBP","t":12,"c":48.8},{"s":"FBP","t":13,"c":47.5},{"s":"FBP","t":14,"c":46},{"s":"FBP","t":15,"c":44.5},{"s":"FBP","t":16,"c":42.8},{"s":"FBP","t":16.7,"c":41},{"s":"FBP","t":17.2,"c":37},{"s":"FBP","t":17.6,"c":33},{"s":"FBP","t":18,"c":30.5},{"s":"FBP","t":18.6,"c":28.5},{"s":"FBP","t":19.5,"c":25.5},{"s":"FBP","t":20,"c":24},{"s":"FBP","t":21,"c":21.5},{"s":"FBP","t":22,"c":19.5},{"s":"FBP","t":24,"c":16.3},{"s":"FBP","t":26,"c":14},{"s":"FBP","t":28,"c":12.4},{"s":"FBP","t":30,"c":11.2},{"s":"FBP","t":32,"c":10.2},{"s":"FBP","t":34,"c":9.4},{"s":"FBP","t":36,"c":8.7},{"s":"FBP","t":38,"c":8.1},{"s":"FBP","t":40,"c":7.7},
{"s":"Lac","t":0,"c":0},{"s":"Lac","t":0.5,"c":0.5},{"s":"Lac","t":1,"c":5},{"s":"Lac","t":2,"c":20},{"s":"Lac","t":3,"c":33.5},{"s":"Lac","t":4,"c":45.5},{"s":"Lac","t":5,"c":55.5},{"s":"Lac","t":6,"c":64.5},{"s":"Lac","t":7,"c":73},{"s":"Lac","t":8,"c":81.5},{"s":"Lac","t":9,"c":90},{"s":"Lac","t":10,"c":98},{"s":"Lac","t":11,"c":105},{"s":"Lac","t":12,"c":111.5},{"s":"Lac","t":13,"c":117.5},{"s":"Lac","t":14,"c":123.5},{"s":"Lac","t":15,"c":129.5},{"s":"Lac","t":16,"c":135},{"s":"Lac","t":16.8,"c":139.5},{"s":"Lac","t":17.3,"c":141.5},{"s":"Lac","t":18,"c":142},{"s":"Lac","t":20,"c":142.2},{"s":"Lac","t":30,"c":142.5},{"s":"Lac","t":40,"c":142.7}
],
"ptsC":[
{"s":"G6P","t":0,"c":1},{"s":"G6P","t":1,"c":4},{"s":"G6P","t":3.22,"c":3},{"s":"G6P","t":5.44,"c":2.5},{"s":"G6P","t":7.66,"c":2.2},{"s":"G6P","t":9.88,"c":2},{"s":"G6P","t":12.1,"c":1.8},{"s":"G6P","t":14.32,"c":1.6},{"s":"G6P","t":16.54,"c":1.4},{"s":"G6P","t":18.76,"c":0},{"s":"G6P","t":20.98,"c":0},{"s":"G6P","t":23.2,"c":0},{"s":"G6P","t":25.42,"c":0},{"s":"G6P","t":27.64,"c":0},{"s":"G6P","t":29.86,"c":0},{"s":"G6P","t":32.08,"c":0},{"s":"G6P","t":34.3,"c":0},{"s":"G6P","t":36.52,"c":0},{"s":"G6P","t":38.74,"c":0},
{"s":"PEP+3PGA","t":20.98,"c":11.7},{"s":"PEP+3PGA","t":23.2,"c":12.3},{"s":"PEP+3PGA","t":25.42,"c":13.1},{"s":"PEP+3PGA","t":27.64,"c":13.1},{"s":"PEP+3PGA","t":29.86,"c":13.5},{"s":"PEP+3PGA","t":32.08,"c":13.5},{"s":"PEP+3PGA","t":34.3,"c":13.8},{"s":"PEP+3PGA","t":36.52,"c":14},{"s":"PEP+3PGA","t":38.74,"c":13.5},
{"s":"FBP","t":0,"c":3.7},{"s":"FBP","t":1,"c":30.4},{"s":"FBP","t":3.22,"c":49},{"s":"FBP","t":5.44,"c":51.3},{"s":"FBP","t":7.66,"c":50.6},{"s":"FBP","t":9.88,"c":51.3},{"s":"FBP","t":12.1,"c":52.1},{"s":"FBP","t":14.32,"c":49.6},{"s":"FBP","t":16.54,"c":41.7},{"s":"FBP","t":18.76,"c":28.1},{"s":"FBP","t":20.98,"c":18.3},{"s":"FBP","t":23.2,"c":15.2},{"s":"FBP","t":25.42,"c":13.1},{"s":"FBP","t":27.64,"c":12.5},{"s":"FBP","t":29.86,"c":11.9},{"s":"FBP","t":32.08,"c":11.5},{"s":"FBP","t":34.3,"c":9.6},{"s":"FBP","t":36.52,"c":9.6},{"s":"FBP","t":38.74,"c":7.3},
{"s":"Lac","t":0,"c":0.6},{"s":"Lac","t":1,"c":10},{"s":"Lac","t":3.22,"c":38.5},{"s":"Lac","t":5.44,"c":61.7},{"s":"Lac","t":7.66,"c":81.5},{"s":"Lac","t":9.88,"c":98.5},{"s":"Lac","t":12.1,"c":111.7},{"s":"Lac","t":14.32,"c":124.4},{"s":"Lac","t":16.54,"c":133.3},{"s":"Lac","t":18.76,"c":139.6},{"s":"Lac","t":20.98,"c":141},{"s":"Lac","t":23.2,"c":142.9},{"s":"Lac","t":25.42,"c":142.5},{"s":"Lac","t":27.64,"c":141},{"s":"Lac","t":29.86,"c":140.6},{"s":"Lac","t":32.08,"c":141.9},{"s":"Lac","t":34.3,"c":143.3},{"s":"Lac","t":36.52,"c":144},{"s":"Lac","t":38.74,"c":142.7},
{"s":"Glc","t":0,"c":79.8},{"s":"Glc","t":1,"c":73.1},{"s":"Glc","t":3.22,"c":56.5},{"s":"Glc","t":5.44,"c":42.9},{"s":"Glc","t":7.66,"c":32.5},{"s":"Glc","t":9.88,"c":24.6},{"s":"Glc","t":12.1,"c":16.7},{"s":"Glc","t":14.32,"c":10},{"s":"Glc","t":16.54,"c":3.7},{"s":"Glc","t":18.76,"c":0.4},{"s":"Glc","t":20.98,"c":0.4}
]
},
"columns":3,
"spacing":{"row":72,"column":61},
"bounds":"flush",
"resolve":{"scale":{"x":"independent","y":"independent","color":"independent"},"legend":{"color":"independent"}},
"concat":[
 {"width":193,"height":240,"title":{"text":"A"},
  "layer":[
   {"data":{"name":"lnA"},"mark":{"type":"line","strokeWidth":1.8,"interpolate":"monotone"},
    "encoding":{"x":{"field":"t","type":"quantitative","scale":{"domain":[0,20],"nice":false},"axis":{"values":[0,5,10,15,20],"title":"Time [min]"}},
     "y":{"field":"c","type":"quantitative","scale":{"domain":[0,55],"nice":false},"axis":{"values":[0,5,10,15,20,25,30,35,40,45,50,55],"title":"Concentration [mM]"}},
     "color":{"field":"s","type":"nominal","scale":{"domain":["Glc","G6P","FBP","PEP+3PGA","Lac"],"range":["#1e46dc","#14a014","#f01414","#40f0b8","#9b30f0"]},
      "legend":{"orient":"top-right","offset":3,"fillColor":"white","strokeColor":"#888888","padding":4,"symbolType":"M-1,0H3","symbolSize":100,"symbolStrokeWidth":2,"labelFont":"Liberation Sans","labelFontSize":9.5,"labelColor":"black","labelOffset":12,"rowPadding":0}}}},
   {"data":{"name":"ptsA"},"mark":{"type":"circle","size":14,"opacity":1},
    "encoding":{"x":{"field":"t","type":"quantitative"},"y":{"field":"c","type":"quantitative"},
     "color":{"field":"s","type":"nominal","legend":{"orient":"top-right","offset":3,"fillColor":"white","strokeColor":"#888888","padding":4,"symbolType":"M-1,0H3","symbolSize":100,"symbolStrokeWidth":2,"labelFont":"Liberation Sans","labelFontSize":9.5,"labelColor":"black","labelOffset":12,"rowPadding":0}}}}
  ]},
 {"width":193,"height":240,"title":{"text":"B"},
  "layer":[
   {"data":{"name":"lnB"},"mark":{"type":"line","strokeWidth":1.8,"interpolate":"monotone"},
    "encoding":{"x":{"field":"t","type":"quantitative","scale":{"domain":[0,30],"nice":false},"axis":{"values":[0,5,10,15,20,25,30],"title":"Time [min]"}},
     "y":{"field":"c","type":"quantitative","scale":{"domain":[0,80],"nice":false},"axis":{"values":[0,10,20,30,40,50,60,70,80],"title":"Concentration [mM]"}},
     "color":{"field":"s","type":"nominal","scale":{"domain":["Glc","G6P","FBP","PEP+3PGA","Lac"],"range":["#1e46dc","#14a014","#f01414","#40f0b8","#9b30f0"]},"legend":null}}},
   {"data":{"name":"ptsB"},"mark":{"type":"circle","size":14,"opacity":1},
    "encoding":{"x":{"field":"t","type":"quantitative"},"y":{"field":"c","type":"quantitative"},"color":{"field":"s","type":"nominal","legend":null}}}
  ]},
 {"width":193,"height":240,"title":{"text":"C"},
  "layer":[
   {"data":{"name":"lnC"},"mark":{"type":"line","strokeWidth":1.8,"interpolate":"monotone"},
    "encoding":{"x":{"field":"t","type":"quantitative","scale":{"domain":[0,40],"nice":false},"axis":{"values":[0,5,10,15,20,25,30,35,40],"title":"Time [min]"}},
     "y":{"field":"c","type":"quantitative","scale":{"domain":[0,150],"nice":false},"axis":{"values":[0,50,100,150],"title":"Concentration [mM]"}},
     "color":{"field":"s","type":"nominal","scale":{"domain":["Glc","G6P","FBP","PEP+3PGA","Lac"],"range":["#1e46dc","#14a014","#f01414","#40f0b8","#9b30f0"]},"legend":null}}},
   {"data":{"name":"ptsC"},"mark":{"type":"circle","size":14,"opacity":1},
    "encoding":{"x":{"field":"t","type":"quantitative"},"y":{"field":"c","type":"quantitative"},"color":{"field":"s","type":"nominal","legend":null}}}
  ]},
 {"width":193,"height":240,"title":{"text":"D"},
  "layer":[
   {"data":{"name":"lnD"},"mark":{"type":"line","strokeWidth":1.8,"interpolate":"monotone"},
    "encoding":{"x":{"field":"t","type":"quantitative","scale":{"domain":[0,20],"nice":false},"axis":{"values":[0,5,10,15,20],"title":"Time [min]"}},
     "y":{"field":"c","type":"quantitative","scale":{"domain":[0,55],"nice":false},"axis":{"values":[0,5,10,15,20,25,30,35,40,45,50,55],"title":"Concentration [mM]"}},
     "color":{"field":"s","type":"nominal","scale":{"domain":["Glc","G6P","FBP","PEP+3PGA","Lac"],"range":["#1e46dc","#14a014","#f01414","#40f0b8","#9b30f0"]},
      "legend":{"orient":"top-right","offset":3,"fillColor":"white","strokeColor":"#888888","padding":4,"symbolType":"M-1,0H3","symbolSize":100,"symbolStrokeWidth":2,"labelFont":"Liberation Sans","labelFontSize":9.5,"labelColor":"black","labelOffset":12,"rowPadding":0}}}},
   {"data":{"name":"ptsA"},"mark":{"type":"circle","size":14,"opacity":1},
    "encoding":{"x":{"field":"t","type":"quantitative"},"y":{"field":"c","type":"quantitative"},
     "color":{"field":"s","type":"nominal","legend":{"orient":"top-right","offset":3,"fillColor":"white","strokeColor":"#888888","padding":4,"symbolType":"M-1,0H3","symbolSize":100,"symbolStrokeWidth":2,"labelFont":"Liberation Sans","labelFontSize":9.5,"labelColor":"black","labelOffset":12,"rowPadding":0}}}}
  ]},
 {"width":193,"height":240,"title":{"text":"E"},
  "layer":[
   {"data":{"name":"lnE"},"mark":{"type":"line","strokeWidth":1.8,"interpolate":"monotone"},
    "encoding":{"x":{"field":"t","type":"quantitative","scale":{"domain":[0,30],"nice":false},"axis":{"values":[0,5,10,15,20,25,30],"title":"Time [min]"}},
     "y":{"field":"c","type":"quantitative","scale":{"domain":[0,80],"nice":false},"axis":{"values":[0,10,20,30,40,50,60,70,80],"title":"Concentration [mM]"}},
     "color":{"field":"s","type":"nominal","scale":{"domain":["Glc","G6P","FBP","PEP+3PGA","Lac"],"range":["#1e46dc","#14a014","#f01414","#40f0b8","#9b30f0"]},"legend":null}}},
   {"data":{"name":"ptsB"},"mark":{"type":"circle","size":14,"opacity":1},
    "encoding":{"x":{"field":"t","type":"quantitative"},"y":{"field":"c","type":"quantitative"},"color":{"field":"s","type":"nominal","legend":null}}}
  ]},
 {"width":193,"height":240,"title":{"text":"F"},
  "layer":[
   {"data":{"name":"lnF"},"mark":{"type":"line","strokeWidth":1.8,"interpolate":"monotone"},
    "encoding":{"x":{"field":"t","type":"quantitative","scale":{"domain":[0,40],"nice":false},"axis":{"values":[0,5,10,15,20,25,30,35,40],"title":"Time [min]"}},
     "y":{"field":"c","type":"quantitative","scale":{"domain":[0,150],"nice":false},"axis":{"values":[0,50,100,150],"title":"Concentration [mM]"}},
     "color":{"field":"s","type":"nominal","scale":{"domain":["Glc","G6P","FBP","PEP+3PGA","Lac"],"range":["#1e46dc","#14a014","#f01414","#40f0b8","#9b30f0"]},"legend":null}}},
   {"data":{"name":"ptsC"},"mark":{"type":"circle","size":14,"opacity":1},
    "encoding":{"x":{"field":"t","type":"quantitative"},"y":{"field":"c","type":"quantitative"},"color":{"field":"s","type":"nominal","legend":null}}}
  ]}
]
}
